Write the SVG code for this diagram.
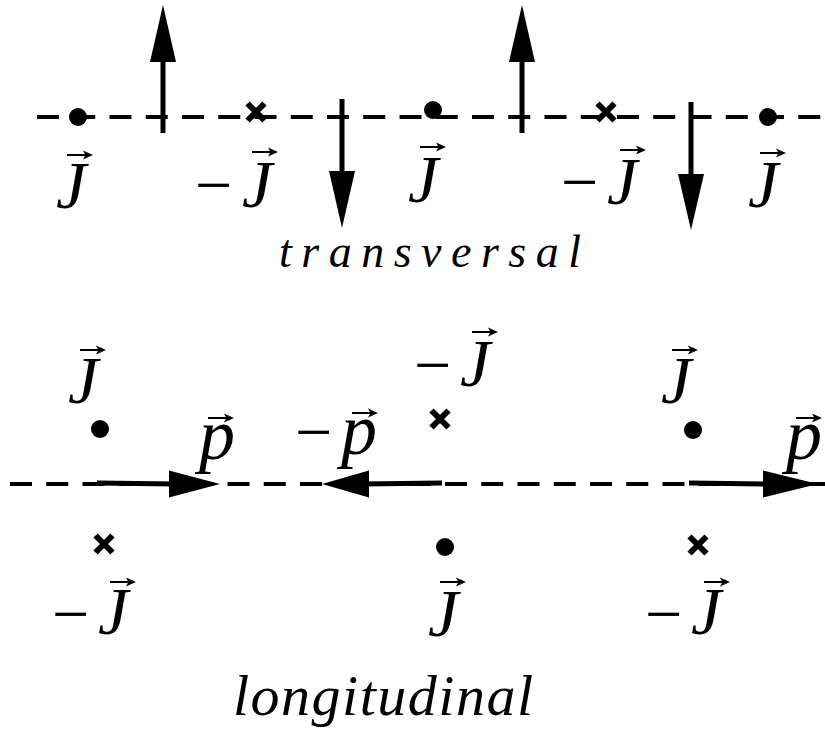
<svg xmlns="http://www.w3.org/2000/svg" xmlns:xlink="http://www.w3.org/1999/xlink" width="825" height="733" viewBox="0 0 825 733">
<style>
.dash{stroke:#000;stroke-width:4;stroke-dasharray:22 14.25;fill:none}
.shaft{stroke:#000;stroke-width:5;fill:none}
.head{fill:#000}
.dot{fill:#000}
.cross{stroke:#000;stroke-width:6;fill:none}
.m{font-family:"Liberation Serif","Times New Roman",serif;font-style:italic;font-size:68px;fill:#000}
.pp{font-family:"Liberation Serif","Times New Roman",serif;font-style:italic;font-size:72px;fill:#000}
.minus{font-family:"Liberation Serif","Times New Roman",serif;font-size:66px;fill:#000}
.cap{font-family:"Liberation Serif","Times New Roman",serif;font-style:italic;fill:#000}
</style>
<defs>
<g id="vec"><path d="M0 0 H20" stroke="#000" stroke-width="2"/><path d="M26 0 L16 -4.5 L18.5 0 L16 4.5 Z" fill="#000"/></g>
<g id="x"><path class="cross" d="M-8.5 -8.5 L8.5 8.5 M-8.5 8.5 L8.5 -8.5"/></g>
</defs>
<rect width="825" height="733" fill="#fff"/>

<g id="connectors">
<line class="dash" x1="37" y1="117" x2="825" y2="117"/>
<line class="dash" x1="10" y1="484" x2="825" y2="484"/>
<line class="shaft" x1="163" y1="133" x2="163" y2="55"/>
<polygon class="head" points="163,5 150,62 176,62"/>
<line class="shaft" x1="522" y1="133" x2="522" y2="55"/>
<polygon class="head" points="522,5 509,62 535,62"/>
<line class="shaft" x1="342" y1="99" x2="342" y2="178"/>
<polygon class="head" points="342,228 329,171 355,171"/>
<line class="shaft" x1="691" y1="102" x2="691" y2="181"/>
<polygon class="head" points="691,230 678,174 704,174"/>
<line class="shaft" x1="97" y1="483" x2="175" y2="484" stroke-width="5.5"/>
<polygon class="head" points="220,484 169,470.5 169,497.5"/>
<line class="shaft" x1="442" y1="483" x2="362" y2="484" stroke-width="5.5"/>
<polygon class="head" points="322,484 369,470.5 369,497.5"/>
<line class="shaft" x1="689" y1="483" x2="770" y2="484" stroke-width="5.5"/>
<polygon class="head" points="818,484 763,470.5 763,497.5"/>
</g>

<g id="top-charges">
<circle class="dot" cx="78" cy="117" r="9"/>
<use xlink:href="#x" x="256" y="112"/>
<circle class="dot" cx="433" cy="110" r="9"/>
<use xlink:href="#x" x="606" y="112"/>
<circle class="dot" cx="768" cy="117" r="9"/>
</g>

<g id="top-labels">
<g id="tJ1"><text class="m" x="56" y="208">J</text><use xlink:href="#vec" x="67" y="155"/></g>
<g id="tJ2"><text class="minus" x="195" y="207">−</text><text class="m" x="242" y="207">J</text><use xlink:href="#vec" x="252" y="152"/></g>
<g id="tJ3"><text class="m" x="408" y="202">J</text><use xlink:href="#vec" x="420" y="147"/></g>
<g id="tJ4"><text class="minus" x="561" y="204">−</text><text class="m" x="607" y="204">J</text><use xlink:href="#vec" x="620" y="150"/></g>
<g id="tJ5"><text class="m" x="748" y="207">J</text><use xlink:href="#vec" x="760" y="153"/></g>
</g>

<g id="title-transversal"><text class="cap" x="279" y="267" font-size="46" letter-spacing="9.5">transversal</text></g>

<g id="bottom-charges">
<circle class="dot" cx="100" cy="429" r="9"/>
<use xlink:href="#x" x="104" y="544"/>
<use xlink:href="#x" x="440" y="419"/>
<circle class="dot" cx="445" cy="547" r="9"/>
<circle class="dot" cx="693" cy="430" r="9"/>
<use xlink:href="#x" x="698" y="545"/>
</g>

<g id="bottom-labels">
<g id="bJ1"><text class="m" x="68" y="403">J</text><use xlink:href="#vec" x="80" y="350"/></g>
<g id="bJ2"><text class="minus" x="52" y="636">−</text><text class="m" x="98" y="634">J</text><use xlink:href="#vec" x="110" y="582"/></g>
<g id="bp1"><text class="pp" x="199" y="459">p</text><use xlink:href="#vec" x="208" y="418"/></g>
<g id="bp2"><text class="minus" x="295" y="454">−</text><text class="pp" x="341" y="454">p</text><use xlink:href="#vec" x="352" y="413"/></g>
<g id="bJ3"><text class="minus" x="414" y="387">−</text><text class="m" x="460" y="386">J</text><use xlink:href="#vec" x="472" y="332"/></g>
<g id="bJ4"><text class="m" x="661" y="403">J</text><use xlink:href="#vec" x="672" y="350"/></g>
<g id="bp3"><text class="pp" x="786" y="459">p</text><use xlink:href="#vec" x="796" y="418"/></g>
<g id="bJ5"><text class="m" x="428" y="636">J</text><use xlink:href="#vec" x="440" y="582"/></g>
<g id="bJ6"><text class="minus" x="645" y="636">−</text><text class="m" x="691" y="634">J</text><use xlink:href="#vec" x="704" y="582"/></g>
</g>

<g id="title-longitudinal"><text class="cap" x="233" y="715" font-size="58" letter-spacing="1.5">longitudinal</text></g>
</svg>
